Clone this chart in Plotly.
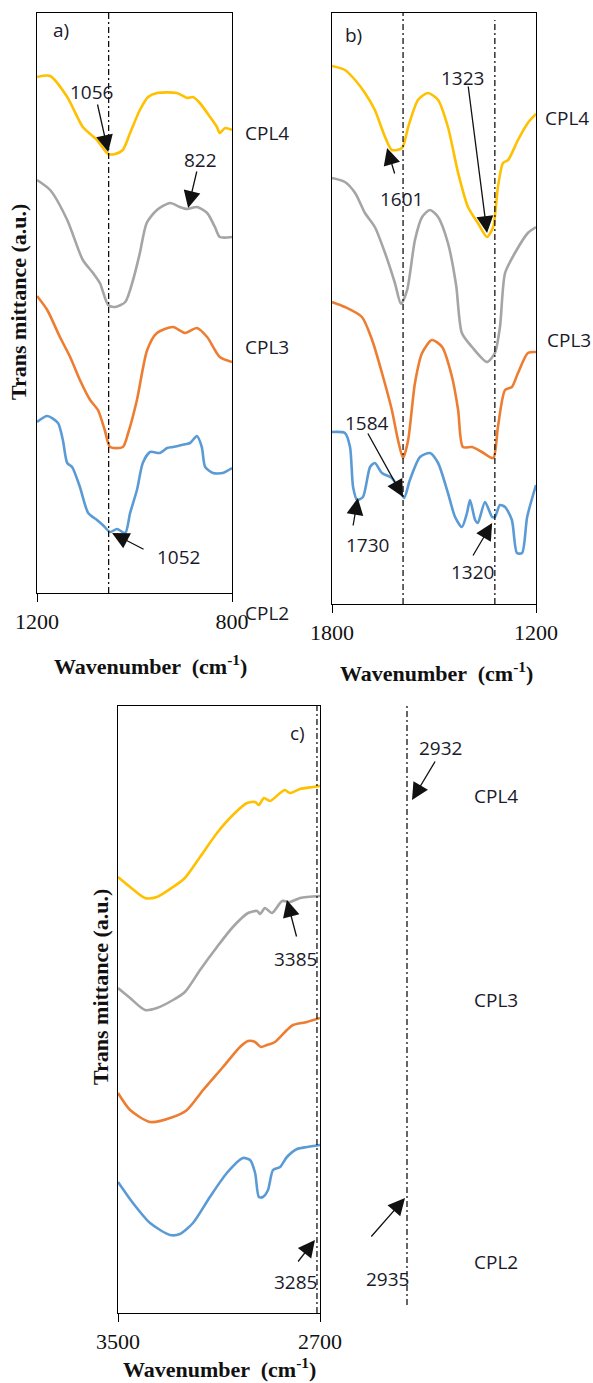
import plotly.graph_objects as go

W, H = 593, 1383

# ---------------- Panel a (1200-800 cm-1) ----------------
a_cpl4_wn = [1200, 1173, 1138, 1106, 1077, 1054, 1040, 1024, 1009, 989, 972, 954, 913, 892, 880, 866, 845, 831, 825, 814, 800]
a_cpl4_t = [516, 517, 496, 466, 453, 439, 439, 443, 460, 483, 496, 500, 500, 495, 496, 490, 476, 466, 460, 465, 463]
a_grey_wn = [1200, 1173, 1138, 1106, 1085, 1071, 1054, 1040, 1019, 1003, 989, 975, 954, 927, 907, 892, 872, 851, 835, 825, 800]
a_grey_t = [413, 403, 373, 333, 320, 310, 288, 286, 291, 313, 340, 370, 383, 390, 386, 384, 386, 380, 366, 356, 356]
a_cpl3_wn = [1200, 1179, 1153, 1132, 1112, 1091, 1075, 1061, 1050, 1024, 1013, 995, 974, 954, 921, 896, 872, 851, 825, 800]
a_cpl3_t = [297, 283, 256, 236, 213, 193, 183, 163, 146, 146, 160, 193, 243, 260, 266, 260, 265, 256, 236, 231]
a_cpl2_wn = [1200, 1179, 1157, 1147, 1138, 1128, 1112, 1095, 1077, 1065, 1050, 1036, 1019, 1009, 995, 983, 968, 948, 933, 921, 903, 886, 872, 862, 855, 839, 819, 800]
a_cpl2_t = [171, 177, 170, 153, 130, 126, 106, 80, 73, 68, 61, 64, 60, 80, 103, 130, 141, 140, 145, 146, 148, 150, 157, 146, 126, 120, 120, 125]

# ---------------- Panel b (1800-1200 cm-1) ----------------
b_cpl4_wn = [1800, 1762, 1732, 1703, 1674, 1644, 1624, 1594, 1576, 1547, 1518, 1488, 1459, 1429, 1400, 1371, 1344, 1326, 1312, 1297, 1282, 1253, 1224, 1200]
b_cpl4_t = [538, 534, 524, 511, 494, 467, 454, 456, 477, 504, 511, 504, 477, 431, 397, 381, 367, 377, 417, 441, 444, 464, 481, 490]
b_grey_wn = [1800, 1762, 1732, 1703, 1674, 1644, 1615, 1597, 1579, 1556, 1535, 1512, 1488, 1459, 1435, 1418, 1388, 1344, 1321, 1306, 1291, 1262, 1224, 1200]
b_grey_t = [426, 422, 411, 391, 377, 351, 321, 300, 314, 364, 387, 394, 387, 361, 319, 271, 257, 242, 251, 277, 331, 351, 371, 377]
b_cpl3_wn = [1800, 1762, 1712, 1682, 1653, 1624, 1606, 1591, 1576, 1556, 1535, 1506, 1476, 1447, 1429, 1415, 1388, 1359, 1326, 1312, 1291, 1271, 1253, 1224, 1200]
b_cpl3_t = [302, 297, 287, 264, 231, 194, 164, 146, 164, 221, 251, 264, 257, 227, 194, 157, 157, 152, 146, 177, 214, 217, 231, 251, 252]
b_cpl2_wn = [1800, 1762, 1747, 1738, 1726, 1709, 1688, 1674, 1653, 1624, 1606, 1588, 1571, 1541, 1512, 1488, 1459, 1438, 1418, 1403, 1394, 1379, 1371, 1350, 1329, 1321, 1306, 1291, 1271, 1256, 1241, 1226, 1200]
b_cpl2_t = [172, 171, 157, 117, 104, 107, 137, 141, 131, 126, 117, 106, 124, 147, 151, 141, 111, 87, 77, 91, 104, 84, 81, 102, 87, 87, 99, 97, 84, 51, 51, 87, 119]

# ---------------- Panel c (3500-2700 cm-1) ----------------
c_cpl4_wn = [3500, 3452, 3393, 3346, 3282, 3235, 3175, 3108, 3045, 2989, 2957, 2942, 2922, 2898, 2858, 2839, 2819, 2779, 2728, 2700]
c_cpl4_t = [436, 426, 415, 416, 426, 435, 456, 480, 498, 510, 511, 508, 515, 512, 520, 523, 520, 524, 526, 527]
c_grey_wn = [3500, 3452, 3393, 3346, 3282, 3235, 3175, 3108, 3045, 2985, 2949, 2937, 2918, 2890, 2850, 2819, 2779, 2700]
c_grey_t = [325, 315, 303, 305, 313, 321, 343, 366, 386, 400, 402, 399, 405, 400, 412, 411, 415, 417]
c_cpl3_wn = [3500, 3452, 3373, 3282, 3227, 3163, 3084, 3017, 2985, 2957, 2934, 2910, 2878, 2831, 2807, 2752, 2700]
c_cpl3_t = [220, 203, 191, 196, 203, 223, 246, 266, 272, 271, 266, 268, 271, 283, 288, 291, 295]
c_cpl2_wn = [3500, 3441, 3373, 3294, 3255, 3203, 3136, 3069, 3005, 2977, 2957, 2942, 2926, 2906, 2886, 2858, 2831, 2791, 2752, 2700]
c_cpl2_t = [131, 110, 90, 78, 79, 90, 116, 140, 155, 153, 140, 116, 116, 123, 143, 146, 156, 164, 166, 168]

colors = {"cpl4": "#FFC000", "grey": "#A5A5A5", "cpl3": "#ED7D31", "cpl2": "#5B9BD5"}

a_ticks = [1200, 800]
b_ticks = [1800, 1200]
c_ticks = [3500, 2700]

def PX(x):
    return x / W

def PY(y):
    return 1 - y / H

fig = go.Figure()

series = [
    ("x", "y", a_cpl4_wn, a_cpl4_t, "cpl4"), ("x", "y", a_grey_wn, a_grey_t, "grey"),
    ("x", "y", a_cpl3_wn, a_cpl3_t, "cpl3"), ("x", "y", a_cpl2_wn, a_cpl2_t, "cpl2"),
    ("x2", "y2", b_cpl4_wn, b_cpl4_t, "cpl4"), ("x2", "y2", b_grey_wn, b_grey_t, "grey"),
    ("x2", "y2", b_cpl3_wn, b_cpl3_t, "cpl3"), ("x2", "y2", b_cpl2_wn, b_cpl2_t, "cpl2"),
    ("x3", "y3", c_cpl4_wn, c_cpl4_t, "cpl4"), ("x3", "y3", c_grey_wn, c_grey_t, "grey"),
    ("x3", "y3", c_cpl3_wn, c_cpl3_t, "cpl3"), ("x3", "y3", c_cpl2_wn, c_cpl2_t, "cpl2"),
]
for xa, ya, xs, ys, key in series:
    fig.add_trace(go.Scatter(x=xs, y=ys, xaxis=xa, yaxis=ya, mode="lines",
                             line=dict(color=colors[key], width=2.6, shape="spline", smoothing=0.7),
                             showlegend=False, hoverinfo="skip"))

tickfont = dict(family="Liberation Serif, Times New Roman, serif", size=22, color="#111")

def xax(domain, rng, ticks):
    return dict(domain=domain, range=rng, showline=True, mirror=True, linecolor="black", linewidth=1.3,
                showgrid=False, zeroline=False, tickmode="array", tickvals=ticks, automargin=False,
                ticktext=[str(t) for t in ticks], ticks="outside", ticklen=8, tickcolor="black",
                tickwidth=1.3, tickfont=tickfont, ticklabelstandoff=0)

def yax(domain, rng, anchor):
    return dict(domain=domain, range=rng, anchor=anchor, showline=True, mirror=True, linecolor="black",
                linewidth=1.3, showgrid=False, zeroline=False, showticklabels=False, ticks="",
                automargin=False)

fig.update_layout(
    width=W, height=H, margin=dict(l=0, r=0, t=0, b=0, pad=0, autoexpand=False),
    paper_bgcolor="white", plot_bgcolor="white", showlegend=False,
    xaxis=dict(xax([PX(37), PX(232)], [1200, 800], a_ticks), anchor="y"),
    yaxis=yax([PY(593), PY(13)], [0, 580], "x"),
    xaxis2=dict(xax([PX(332), PX(536)], [1800, 1200], b_ticks), anchor="y2"),
    yaxis2=yax([PY(604), PY(13)], [0, 591], "x2"),
    xaxis3=dict(xax([PX(118), PX(320)], [3500, 2700], c_ticks), anchor="y3"),
    yaxis3=yax([PY(1313), PY(706)], [0, 607], "x3"),
)

dash = "6px,3px,2px,3px"
vlines = [("x", "y domain", 1053, 0, 1), ("x2", "y2 domain", 1591, 0, 1),
          ("x2", "y2 domain", 1321, 0, 0.988), ("x3", "y3 domain", 2712, 0, 1)]
for xr, yr, xv, y0, y1 in vlines:
    fig.add_shape(type="line", xref=xr, yref=yr, x0=xv, x1=xv, y0=y0, y1=y1,
                  line=dict(color="black", width=1.2, dash=dash))
fig.add_shape(type="line", xref="paper", yref="paper", x0=PX(407), x1=PX(407), y0=PY(1305), y1=PY(703),
              line=dict(color="black", width=1.2, dash=dash))

lab = dict(family="Open Sans, Noto Sans, sans-serif", size=19, color="#1a1a2a")

def text(s, x, y, xanchor="center"):
    fig.add_annotation(text=s, xref="paper", yref="paper", x=PX(x), y=PY(y), xanchor=xanchor,
                       yanchor="middle", showarrow=False, font=lab)

def arrow(xr, yr, x, y, ax, ay):
    fig.add_annotation(text="", xref=xr, yref=yr, x=x, y=y, ax=ax, ay=ay, showarrow=True,
                       arrowhead=2, arrowsize=2.6, arrowwidth=1.3, arrowcolor="#111")

# panel a
text("a)", 61, 30)
text("1056", 91, 92)
text("822", 200, 160)
text("1052", 178, 557)
text("CPL4", 243, 133, "left")
text("CPL3", 243, 347, "left")
text("CPL2", 243, 613, "left")
arrow("x", "y", 1054, 441, -11, -49)
arrow("x", "y", 890, 385, 9, -38)
arrow("x", "y", 1046, 60, 33, 17)

# panel b
text("b)", 353, 35)
text("1323", 462, 78)
text("1601", 401, 199)
text("1584", 367, 423)
text("1730", 367, 545)
text("1320", 472, 572)
text("CPL4", 543, 118, "left")
text("CPL3", 545, 340, "left")
arrow("x2", "y2", 1344, 371, -19, -148)
arrow("x2", "y2", 1638, 456, 8, 27)
arrow("x2", "y2", 1591, 107, -36, -65)
arrow("x2", "y2", 1724, 106, -5, 29)
arrow("x2", "y2", 1329, 81, -20, 34)

# panel c
text("c)", 297, 733)
text("3385", 295, 959)
text("3285", 295, 1282)
text("2932", 440, 748)
text("2935", 387, 1279)
text("CPL4", 472, 796, "left")
text("CPL3", 472, 1000, "left")
text("CPL2", 472, 1262, "left")
arrow("x3", "y3", 2831, 413, 10, 38)
arrow("x3", "y3", 2720, 73, -18, 23)
arrow("paper", "paper", PX(412), PY(800), 24, -40)
arrow("paper", "paper", PX(405), PY(1198), -35, 40)

# axis titles
tfont = dict(family="Liberation Serif, Times New Roman, serif", size=22, color="#111")
xt = "<b>Wavenumber  (cm<sup>-1</sup>)</b>"
for x, y in [(150, 665), (437, 672), (219, 1368)]:
    fig.add_annotation(text=xt, xref="paper", yref="paper", x=PX(x), y=PY(y), showarrow=False,
                       font=tfont, xanchor="center", yanchor="middle")
yt = "<b>Trans mittance (a.u.)</b>"
for x, y in [(19, 302), (100, 987)]:
    fig.add_annotation(text=yt, xref="paper", yref="paper", x=PX(x), y=PY(y), showarrow=False,
                       font=dict(family="Liberation Serif, Times New Roman, serif", size=22, color="#111"),
                       textangle=-90, xanchor="center", yanchor="middle")

fig.write_html("out.html")
